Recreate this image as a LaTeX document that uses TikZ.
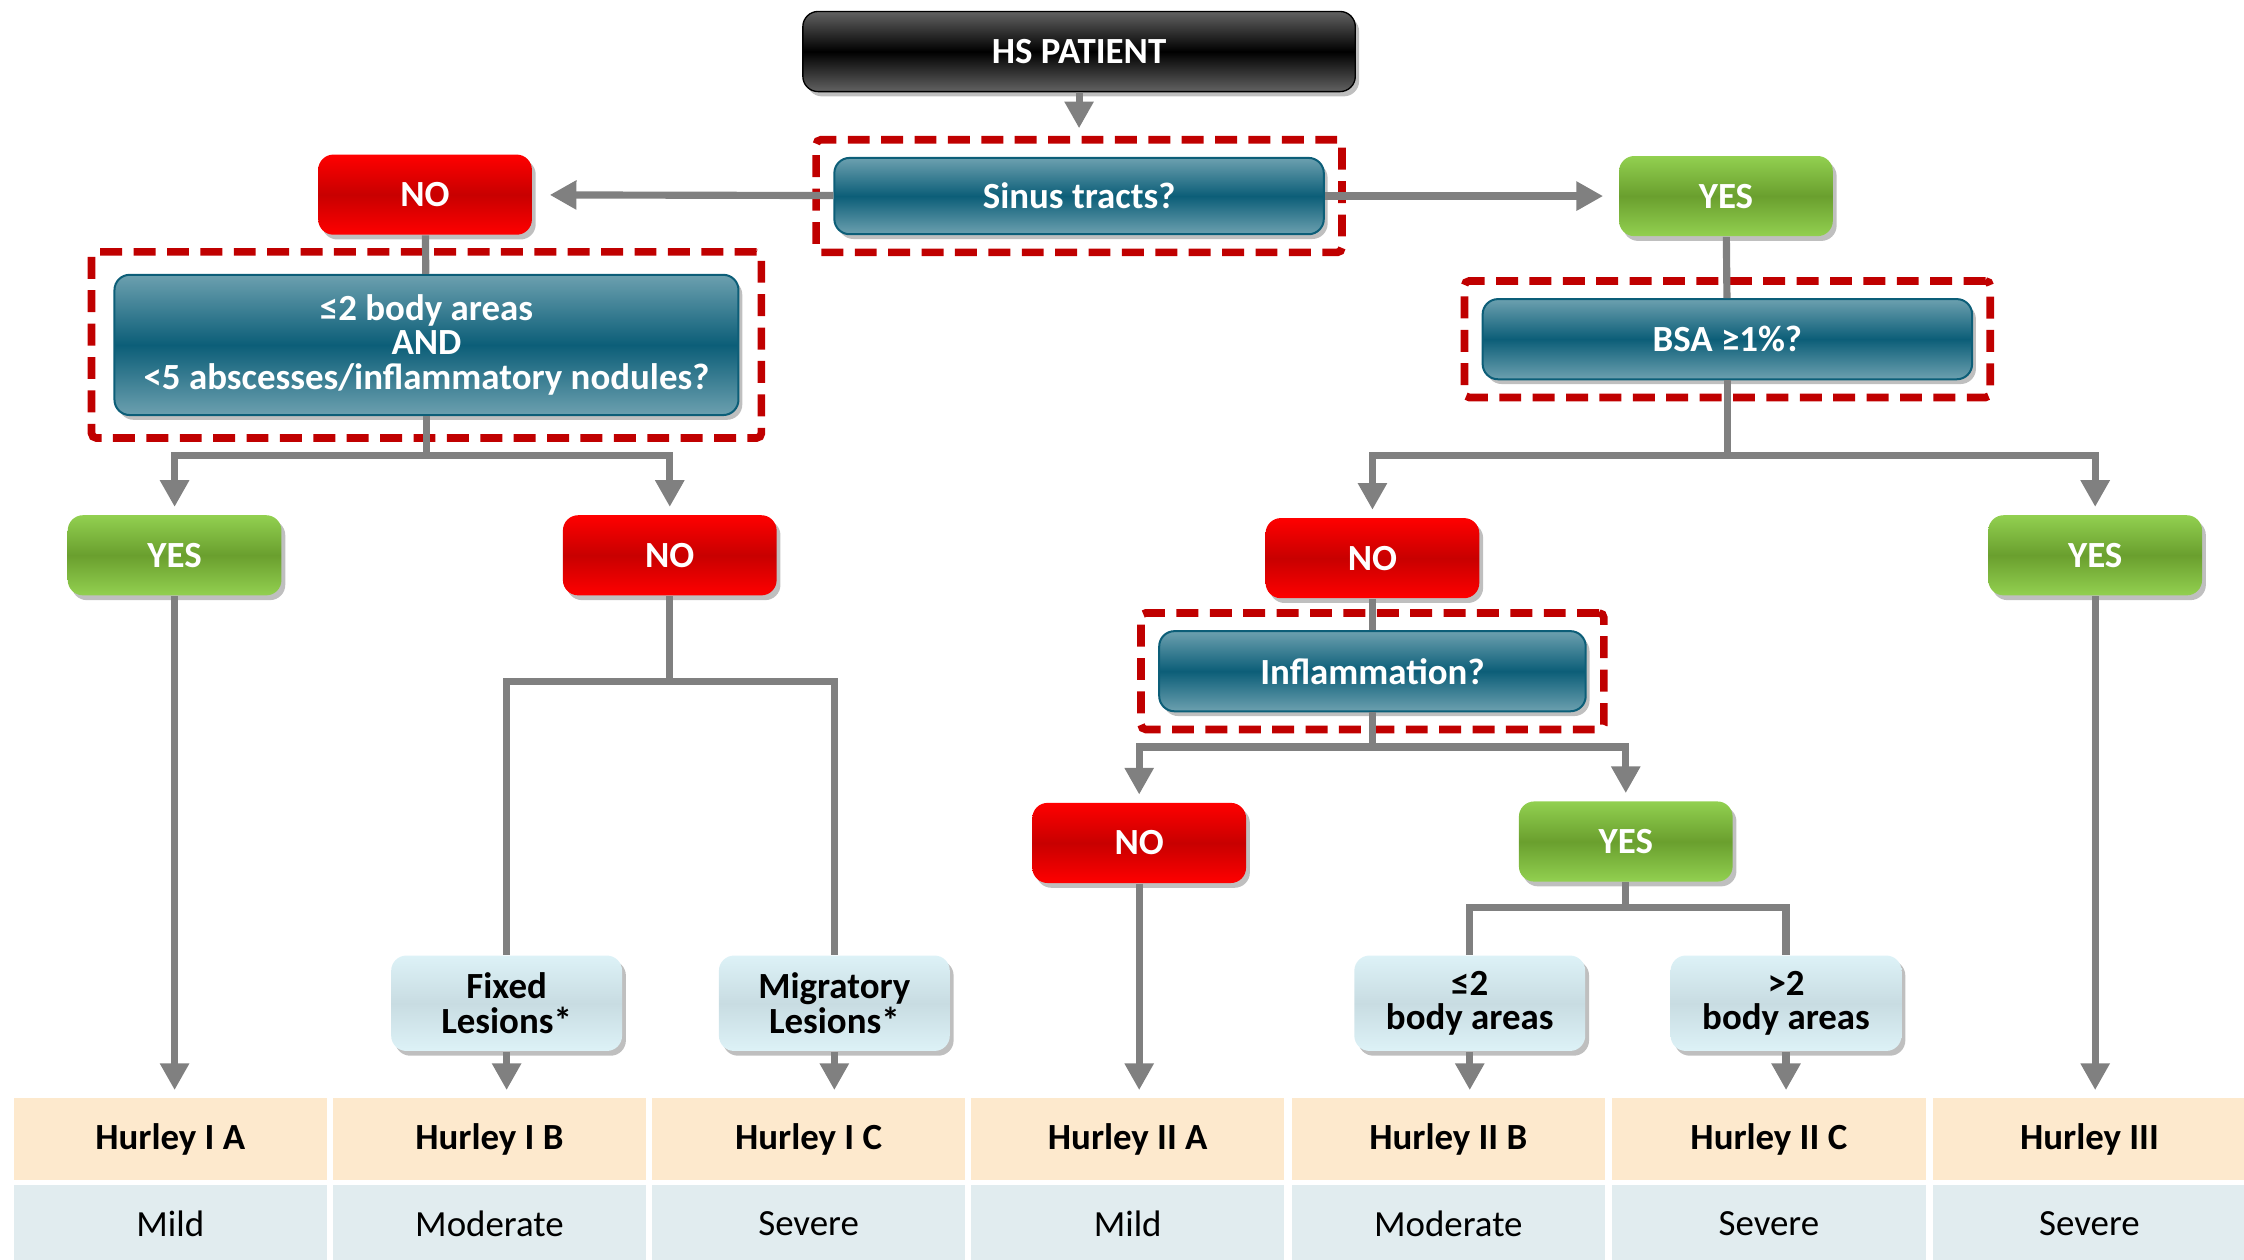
\documentclass[tikz,border=0pt]{standalone}
\usepackage{fontspec}
\setmainfont{Carlito}
\usepackage{tikz}
\usetikzlibrary{arrows.meta,fit,shadows}
\definecolor{hsgrey}{HTML}{626262}
\definecolor{tealdk}{HTML}{0C5E78}
\definecolor{teallt}{HTML}{6CA0AF}
\definecolor{reddk}{HTML}{C80000}
\definecolor{redlt}{HTML}{FF0000}
\definecolor{grndk}{HTML}{6A9F2E}
\definecolor{grnlt}{HTML}{92D050}
\definecolor{lesdk}{HTML}{C8DCE2}
\definecolor{leslt}{HTML}{DDF2F7}
\definecolor{dashred}{HTML}{C00000}
\definecolor{conn}{HTML}{808080}
\definecolor{peach}{HTML}{FDE9CD}
\definecolor{paleblue}{HTML}{E1ECEF}
\begin{document}
\begin{tikzpicture}[x=0.15mm,y=-0.15mm,>={Triangle[length=2.8mm,width=2.9mm]},
 bx/.style={rounded corners=1.6mm,align=center,inner sep=0pt,font=\fontsize{11}{10.3}\selectfont\bfseries,text=white,minimum height=8.4mm,drop shadow={shadow xshift=.4mm,shadow yshift=-.5mm,opacity=.5}},
 hsbox/.style={bx,minimum width=57.9mm,draw=black,top color=hsgrey,bottom color=hsgrey,middle color=black},
 qbox/.style={bx,draw=tealdk,line width=.6pt,top color=teallt,bottom color=teallt,middle color=tealdk},
 nobox/.style={bx,minimum width=22.4mm,top color=redlt,bottom color=redlt,middle color=reddk},
 yesbox/.style={bx,minimum width=22.4mm,top color=grnlt,bottom color=grnlt,middle color=grndk},
 lbox/.style={bx,text=black,minimum width=24.2mm,minimum height=10mm,top color=leslt,bottom color=leslt,middle color=lesdk},
 dbox/.style={draw=dashred,line width=.8mm,dash pattern=on 2.3mm off 1.2mm,rounded corners=.5mm,inner sep=1.8mm},
 hcell/.style={fill=peach,minimum width=32.85mm,minimum height=8.55mm,inner sep=0pt,font=\fontsize{11}{10.3}\selectfont\bfseries},
 scell/.style={fill=paleblue,minimum width=32.85mm,minimum height=8.1mm,inner sep=0pt,font=\fontsize{11}{10.3}\selectfont},
 a/.style={->,draw=conn,line width=.75mm,shorten >=.8mm},
 l/.style={draw=conn,line width=.75mm}]
\useasboundingbox (0,0) rectangle (1568,880);
% question boxes and answers
\node[hsbox] (hs) at (754,36) {HS PATIENT};
\node[qbox,minimum width=51.3mm,minimum height=8mm] (sinus) at (754,137) {Sinus tracts?};
\node[nobox] (no1) at (297,136) {NO};
\node[yesbox] (yes1) at (1206,137) {YES};
\node[qbox,minimum width=65.4mm,minimum height=14.7mm] (areas) at (298,241) {≤2 body areas\\AND\\<5 abscesses/inflammatory nodules?};
\node[yesbox] (yes2) at (122,388) {YES};
\node[nobox] (no2) at (468,388) {NO};
\node[lbox] (fixed) at (354,701) {Fixed\\Lesions*};
\node[lbox] (migr) at (583,701) {Migratory\\Lesions*};
\node[qbox,minimum width=51.3mm] (bsa) at (1207,237) {BSA ≥1\%?};
\node[nobox] (no3) at (959,390) {NO};
\node[yesbox] (yes3) at (1464,388) {YES};
\node[qbox,minimum width=44.7mm] (infl) at (959,469) {Inflammation?};
\node[nobox] (no4) at (796,589) {NO};
\node[yesbox] (yes4) at (1136,588) {YES};
\node[lbox] (few) at (1027,701) {≤2\\body areas};
\node[lbox] (many) at (1248,701) {>2\\body areas};
% dashed frames
\node[dbox,fit=(sinus)] (sinusf) {};
\node[dbox,inner sep=2.3mm,fit=(areas)] (areasf) {};
\node[dbox,fit=(bsa)] (bsaf) {};
\node[dbox,fit=(infl)] (inflf) {};
% table
\node[hcell] (h1) at (119,796) {Hurley I A};   \node[scell] (s1) at (119,855) {Mild};
\node[hcell] (h2) at (342,796) {Hurley I B};   \node[scell] (s2) at (342,855) {Moderate};
\node[hcell] (h3) at (565,796) {Hurley I C};   \node[scell] (s3) at (565,855) {Severe};
\node[hcell] (h4) at (788,796) {Hurley II A};  \node[scell] (s4) at (788,855) {Mild};
\node[hcell] (h5) at (1012,796) {Hurley II B}; \node[scell] (s5) at (1012,855) {Moderate};
\node[hcell] (h6) at (1236,796) {Hurley II C}; \node[scell] (s6) at (1236,855) {Severe};
\node[hcell] (h7) at (1460,796) {Hurley III};  \node[scell] (s7) at (1460,855) {Severe};
% connectors
\coordinate (j1) at (298,318);
\coordinate (j2) at (468,476);
\coordinate (j3) at (1207,318);
\coordinate (j4) at (959,522);
\coordinate (j5) at (1136,634);
\draw[a] (hs) -- (sinusf);
\draw[a,shorten >=1.8mm] (sinus) -- (no1);
\draw[a,shorten >=1.6mm] (sinus) -- (yes1);
\draw[l] (no1) -- (areas);\draw[l] (areas) -- (j1);
\draw[a] (j1) -| (yes2);\draw[a] (j1) -| (no2);
\draw[a] (yes2) -- (yes2 |- h1.north);
\draw[l] (no2) -- (j2);\draw[l] (j2) -| (fixed);\draw[l] (j2) -| (migr);
\draw[a] (fixed) -- (fixed |- h2.north);\draw[a] (migr) -- (migr |- h3.north);
\draw[l] (yes1) -- (bsa);\draw[l] (bsa) -- (j3);
\draw[a] (j3) -| (no3);\draw[a] (j3) -| (yes3);
\draw[a] (yes3) -- (yes3 |- h7.north);
\draw[l] (no3) -- (infl);\draw[l] (infl) -- (j4);
\draw[a] (j4) -| (no4);\draw[a] (j4) -| (yes4);
\draw[a] (no4) -- (no4 |- h4.north);
\draw[l] (yes4) -- (j5);\draw[l] (j5) -| (few);\draw[l] (j5) -| (many);
\draw[a] (few) -- (few |- h5.north);\draw[a] (many) -- (many |- h6.north);
\end{tikzpicture}
\end{document}
